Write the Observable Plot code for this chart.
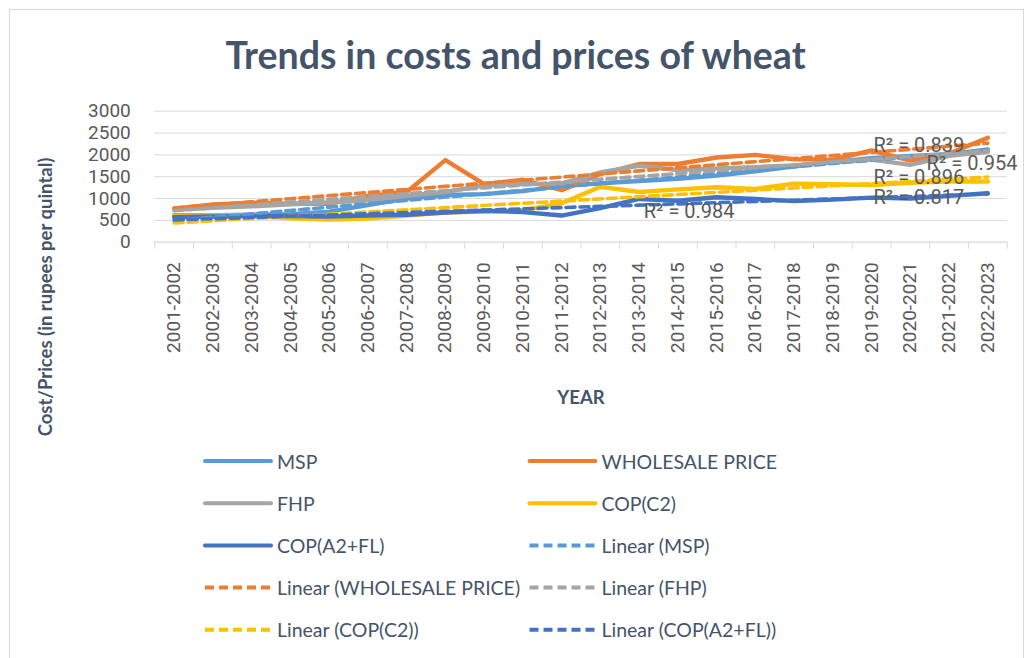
<!DOCTYPE html>
<html><head><meta charset="utf-8">
<script src="https://cdn.jsdelivr.net/npm/d3@7"></script>
<script src="https://cdn.jsdelivr.net/npm/@observablehq/plot@0.6"></script>
<style>
body{margin:0;background:#fff;}
#wrap{position:relative;width:1031px;height:658px;overflow:hidden;background:#fff;}
#border{position:absolute;left:9px;top:9px;width:1015px;height:700px;border:1px solid #D9D9D9;box-sizing:border-box;}
#title{position:absolute;left:0;width:1031px;top:33px;line-height:44px;text-align:center;font-family:Lato,sans-serif;font-weight:bold;font-size:37.5px;color:#44546A;}
.lab{position:absolute;transform:translate(-50%,-50%);font-family:Lato,sans-serif;font-weight:bold;font-size:18.5px;color:#44546A;white-space:nowrap;}
#ylab{left:45px;top:297px;transform:translate(-50%,-50%) rotate(-90deg);}
#xlab{left:581px;top:397px;}
#chart{position:absolute;left:0;top:0;}
#legend{position:absolute;left:0;top:0;}
</style></head>
<body>
<div id="wrap">
  <div id="border"></div>
  <div id="title">Trends in costs and prices of wheat</div>
  <div id="chart"></div>
  <div class="lab" id="ylab">Cost/Prices (in rupees per quintal)</div>
  <div class="lab" id="xlab">YEAR</div>
  <svg id="legend" width="1031" height="658"></svg>
</div>
<script>
const years = ["2001-2002","2002-2003","2003-2004","2004-2005","2005-2006","2006-2007","2007-2008","2008-2009","2009-2010","2010-2011","2011-2012","2012-2013","2013-2014","2014-2015","2015-2016","2016-2017","2017-2018","2018-2019","2019-2020","2020-2021","2021-2022","2022-2023"];
const msp       = [620, 620, 630, 640, 700, 850, 1000, 1080, 1100, 1170, 1285, 1350, 1400, 1450, 1525, 1625, 1735, 1840, 1925, 1975, 2015, 2125];
const wholesale = [765, 864, 900, 880, 880, 1060, 1150, 1880, 1330, 1430, 1190, 1560, 1790, 1790, 1940, 2000, 1900, 1890, 2100, 1870, 2030, 2390];
const fhp       = [740, 790, 820, 870, 910, 960, 1060, 1150, 1300, 1330, 1340, 1600, 1750, 1650, 1690, 1720, 1760, 1830, 1890, 1770, 1980, 2070];
const copC2     = [600, 610, 610, 550, 520, 540, 610, 680, 700, 730, 890, 1270, 1150, 1210, 1260, 1220, 1340, 1330, 1310, 1360, 1390, 1390];
const copA2FL   = [570, 590, 600, 600, 590, 610, 630, 680, 720, 690, 610, 780, 990, 950, 1030, 990, 940, 975, 1020, 1000, 1060, 1120];
const seriesNames = ["MSP", "WHOLESALE PRICE", "FHP", "COP(C2)", "COP(A2+FL)"];
const seriesValues = [msp, wholesale, fhp, copC2, copA2FL];
const seriesColors = ["#5B9BD5", "#ED7D31", "#A5A5A5", "#FFC000", "#4472C4"];
const yTicks = [0, 500, 1000, 1500, 2000, 2500, 3000];
// trendline R² labels: text, category index, value
const r2Labels = [
  {text: "R² = 0.984", i: 12.12, v: 690},
  {text: "R² = 0.839", i: 18.05, v: 2216},
  {text: "R² = 0.954", i: 19.42, v: 1804},
  {text: "R² = 0.896", i: 18.05, v: 1470},
  {text: "R² = 0.817", i: 18.05, v: 1030}
];

const idx = d3.range(years.length);
const boundaries = d3.range(years.length + 1).map(k => k - 0.5);

// linear trend (least squares) for each series
function trend(vals) {
  const mx = d3.mean(idx), my = d3.mean(vals);
  let sxy = 0, sxx = 0;
  idx.forEach(i => { sxy += (i - mx) * (vals[i] - my); sxx += (i - mx) ** 2; });
  const b = sxy / sxx, a = my - b * mx;
  return idx.map(i => a + b * i);
}

const solidMarks = seriesValues.map((vals, s) =>
  Plot.line(idx, {x: i => i, y: i => vals[i], stroke: seriesColors[s], strokeWidth: 4.4, strokeLinejoin: "round", strokeLinecap: "round"}));
const trendMarks = seriesValues.map((vals, s) => {
  const t = trend(vals);
  return Plot.line(idx, {x: i => i, y: i => t[i], stroke: seriesColors[s], strokeWidth: 3.6, strokeDasharray: "9,5"});
});

const chart = Plot.plot({
  width: 1031, height: 420,
  marginTop: 110.7, marginBottom: 178.3, marginLeft: 154.3, marginRight: 24.3,
  x: {domain: [-0.5, years.length - 0.5]},
  y: {domain: [0, 3000]},
  style: {background: "transparent", fontFamily: "Roboto, sans-serif", fontSize: "19px", color: "#595959", overflow: "visible"},
  marks: [
    Plot.gridY(yTicks.slice(1), {stroke: "#D9D9D9", strokeOpacity: 1, strokeWidth: 1}),
    Plot.ruleY([0], {stroke: "#D9D9D9", strokeWidth: 1.2}),
    Plot.axisY(yTicks, {tickSize: 0, tickPadding: 24, tickFormat: d => String(d), label: null, fill: "#595959"}),
    Plot.axisX(boundaries, {tickSize: 7, stroke: "#D9D9D9", strokeOpacity: 1, tickFormat: () => "", label: null}),
    Plot.axisX(idx, {tickSize: 0, tickRotate: -90, tickPadding: 20, tickFormat: i => years[i], label: null, fill: "#595959"}),
    ...solidMarks,
    ...trendMarks,
    Plot.text(r2Labels, {x: "i", y: "v", text: "text", textAnchor: "start", fill: "#595959", fontSize: 20})
  ]
});
document.getElementById("chart").appendChild(chart);

// legend (Excel-style, two columns, row-major)
const entries = [
  ...seriesNames.map((n, s) => ({name: n, color: seriesColors[s], dash: null})),
  ...seriesNames.map((n, s) => ({name: "Linear (" + n + ")", color: seriesColors[s], dash: "9,5"}))
];
const leg = d3.select("#legend");
entries.forEach((e, k) => {
  const col = k % 2, row = Math.floor(k / 2);
  const x0 = col === 0 ? 205 : 529.5, y0 = 461 + row * 42.2;
  leg.append("line").attr("x1", x0).attr("x2", x0 + 66).attr("y1", y0).attr("y2", y0)
    .attr("stroke", e.color).attr("stroke-width", 4)
    .attr("stroke-linecap", e.dash ? "butt" : "round")
    .attr("stroke-dasharray", e.dash);
  leg.append("text").attr("x", x0 + 72).attr("y", y0).attr("dominant-baseline", "central")
    .attr("font-family", "Lato, sans-serif").attr("font-size", 19.5).attr("fill", "#44546A")
    .text(e.name);
});
</script>
</body></html>
